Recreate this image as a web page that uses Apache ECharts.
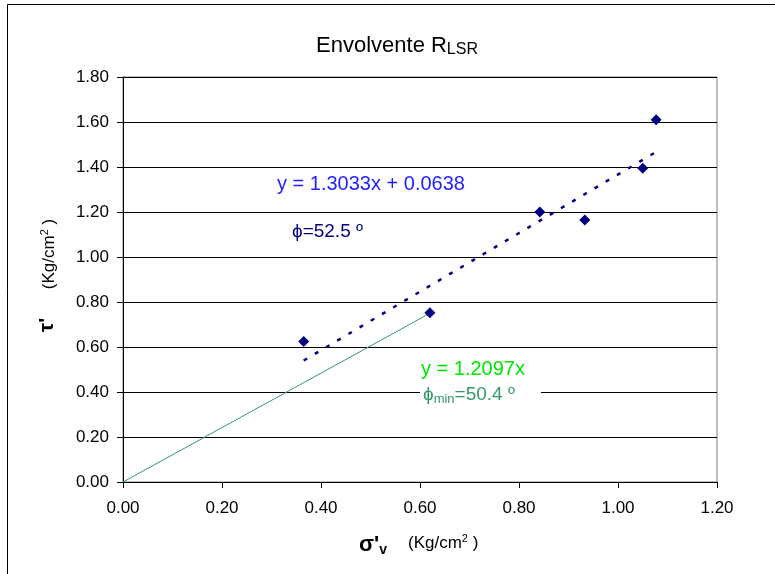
<!DOCTYPE html>
<html>
<head>
<meta charset="utf-8">
<script src="https://cdn.jsdelivr.net/npm/echarts@6/dist/echarts.min.js"></script>
<style>
html,body{margin:0;padding:0;background:#fff;}
#c{width:775px;height:574px;}
</style>
</head>
<body>
<div id="c"></div>
<script>
// Data
var sigmaV = [0.365, 0.62, 0.842, 0.933, 1.05, 1.077];
var tau    = [0.625, 0.752, 1.20, 1.165, 1.395, 1.61];
// Linear trend (y = 1.3033x + 0.0638) endpoints as drawn
var trendX = [0.365, 1.077];
var trendY = [0.54, 1.467];
// Minimum envelope (y = 1.2097x) endpoints as drawn
var minX = [0, 0.62];
var minY = [0, 0.75];
var xTicks = ['0.00','0.20','0.40','0.60','0.80','1.00','1.20'];
var yTicks = ['0.00','0.20','0.40','0.60','0.80','1.00','1.20','1.40','1.60','1.80'];

function pairs(a, b){ return a.map(function(v,i){ return [v, b[i]]; }); }

var FONT = 'Liberation Sans, Arial, sans-serif';
var chart = echarts.init(document.getElementById('c'), null, {renderer:'canvas'});
var option = {
  animation: false,
  backgroundColor: '#ffffff',
  textStyle: {fontFamily: FONT},
  grid: {left: 123, top: 77, width: 594, height: 405, show: true, borderColor: '#808080', borderWidth: 1, backgroundColor: 'transparent'},
  xAxis: {
    type: 'value', min: 0, max: 1.2, interval: 0.2,
    axisLine: {show: true, onZero: false, lineStyle: {color: '#000', width: 1}},
    axisTick: {show: true, inside: false, length: 6, lineStyle: {color: '#000'}},
    axisLabel: {margin: 18, fontSize: 17, color: '#000', fontFamily: FONT,
      formatter: function(v){ var i = Math.round(v/0.2); return xTicks[i] || ''; }},
    splitLine: {show: false}
  },
  yAxis: {
    type: 'value', min: 0, max: 1.8, interval: 0.2,
    axisLine: {show: true, onZero: false, lineStyle: {color: '#000', width: 1}},
    axisTick: {show: true, inside: false, length: 6, lineStyle: {color: '#000'}},
    axisLabel: {margin: 14, fontSize: 17, color: '#000', fontFamily: FONT,
      formatter: function(v){ var i = Math.round(v/0.2); return yTicks[i] || ''; }},
    splitLine: {show: true, lineStyle: {color: '#000', width: 1}}
  },
  series: [
    {
      type: 'line', data: pairs(minX, minY), symbol: 'none',
      lineStyle: {color: '#339966', width: 1}, z: 2
    },
    {
      type: 'line', data: pairs(trendX, trendY), symbol: 'none',
      lineStyle: {color: '#000080', width: 2.5, type: [4, 9]}, z: 3
    },
    {
      type: 'scatter', data: pairs(sigmaV, tau), symbol: 'diamond', symbolSize: 11,
      itemStyle: {color: '#000080', opacity: 1}, z: 4
    }
  ],
  graphic: [
    {type: 'rect', shape: {x: 7.5, y: 4.5, width: 820, height: 620}, style: {fill: 'none', stroke: '#000', lineWidth: 1}, z: 1},
    {type: 'rect', shape: {x: 420, y: 385, width: 121, height: 16}, style: {fill: '#fff'}, z: 50},
    {type: 'text', x: 397, y: 46, z: 60, style: {
      text: '{a|Envolvente R}{b|LSR}', align: 'center', verticalAlign: 'middle',
      rich: {a: {fontSize: 22, lineHeight: 24, fontFamily: FONT, fill: '#000'},
             b: {fontSize: 16, lineHeight: 12, verticalAlign: 'bottom', fontFamily: FONT, fill: '#000'}}
    }},
    {type: 'text', x: 277, y: 184, z: 60, style: {
      text: 'y = 1.3033x + 0.0638', align: 'left', verticalAlign: 'middle',
      font: '20px ' + FONT, fill: '#1f1fff'
    }},
    {type: 'text', x: 292, y: 232, z: 60, style: {
      text: '\u03d5=52.5 \u00ba', align: 'left', verticalAlign: 'middle',
      font: '19px ' + FONT, fill: '#000080'
    }},
    {type: 'text', x: 421, y: 369, z: 60, style: {
      text: 'y = 1.2097x', align: 'left', verticalAlign: 'middle',
      font: '20px ' + FONT, fill: '#00e600'
    }},
    {type: 'text', x: 423, y: 395, z: 60, style: {
      text: '{a|\u03d5}{b|min}{a|=50.4 \u00ba}', align: 'left', verticalAlign: 'middle',
      rich: {a: {fontSize: 19, lineHeight: 22, fontFamily: FONT, fill: '#339966'},
             b: {fontSize: 13, lineHeight: 11, verticalAlign: 'bottom', fontFamily: FONT, fill: '#339966'}}
    }},
    {type: 'text', x: 47, y: 325, rotation: Math.PI/2, z: 60, style: {
      text: '\u03c4\'', align: 'center', verticalAlign: 'middle',
      font: 'bold 21px ' + FONT, fill: '#000'
    }},
    {type: 'text', x: 49, y: 254, rotation: Math.PI/2, z: 60, style: {
      text: '{a|(Kg/cm}{s|2}{a| )}', align: 'center', verticalAlign: 'middle',
      rich: {a: {fontSize: 17, lineHeight: 20, fontFamily: FONT, fill: '#000'},
             s: {fontSize: 11, lineHeight: 11, verticalAlign: 'top', fontFamily: FONT, fill: '#000'}}
    }},
    {type: 'text', x: 359, y: 545, z: 60, style: {
      text: '{a|\u03c3\'}{b|v}', align: 'left', verticalAlign: 'middle',
      rich: {a: {fontSize: 22, lineHeight: 24, fontWeight: 'bold', fontFamily: FONT, fill: '#000'},
             b: {fontSize: 14, lineHeight: 12, fontWeight: 'bold', verticalAlign: 'bottom', fontFamily: FONT, fill: '#000'}}
    }},
    {type: 'text', x: 408, y: 543, z: 60, style: {
      text: '{a|(Kg/cm}{s|2}{a| )}', align: 'left', verticalAlign: 'middle',
      rich: {a: {fontSize: 17, lineHeight: 20, fontFamily: FONT, fill: '#000'},
             s: {fontSize: 11, lineHeight: 11, verticalAlign: 'top', fontFamily: FONT, fill: '#000'}}
    }}
  ]
};
chart.setOption(option);
</script>
</body>
</html>
